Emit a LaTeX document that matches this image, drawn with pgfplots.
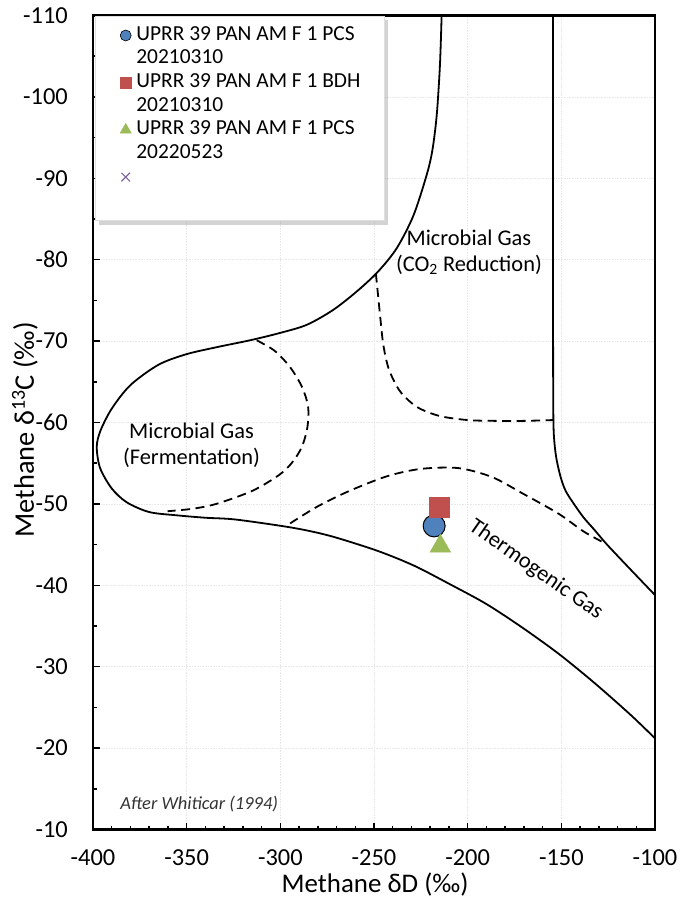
\documentclass[border=0pt]{standalone}
\usepackage{pgfplots}
\pgfplotsset{compat=1.18}
\usepackage{fontspec}
\setmainfont{Carlito}
\usetikzlibrary{shadows}
\definecolor{xlblue}{HTML}{4F81BD}
\definecolor{xlred}{HTML}{C0504D}
\definecolor{xlgreen}{HTML}{9BBB59}
\definecolor{xlpurple}{HTML}{8064A2}
\newcommand{\tickfont}{\fontsize{24.5}{28}\selectfont}
\begin{document}
\begin{tikzpicture}
\begin{axis}[
  at={(0,0)}, anchor=south west,
  scale only axis, width=562bp, height=814bp,
  xmin=-400, xmax=-100, ymin=-110, ymax=-10,
  y dir=reverse,
  xtick={-400,-350,...,-100}, ytick={-110,-100,...,-10},
  minor x tick num=4, minor y tick num=1,
  tick align=inside, xtick pos=left, ytick pos=left,
  major tick length=7bp, minor tick length=4bp,
  every tick/.style={black, line width=1.5bp},
  axis line style={line width=2.2bp},
  grid=major, major grid style={gray!18, line width=0.6bp, densely dotted},
  /pgf/number format/assume math mode=true,
  xticklabel={\tickfont\pgfmathprintnumber{\tick}},
  yticklabel={\tickfont\pgfmathprintnumber{\tick}},
  yticklabel style={inner sep=0pt, xshift=-25bp},
  xticklabel style={inner sep=0pt, yshift=-20bp},
  xlabel={Methane δD (‰)},
  ylabel={Methane δ\textsuperscript{13}C (‰)},
  xlabel style={font=\fontsize{27}{32}\selectfont, at={(axis description cs:0.502,-0.068)}, anchor=center},
  ylabel style={font=\fontsize{28.5}{32}\selectfont, at={(axis description cs:-0.121,0.491)}, anchor=center, rotate=0},
  legend style={at={(axis description cs:0.0036,1)}, anchor=north west,
    draw=gray!25, fill=white,
    drop shadow={shadow xshift=4bp, shadow yshift=-4bp, opacity=0.35},
    font=\fontsize{21.5}{25}\selectfont, row sep=0pt,
    inner xsep=22bp, inner ysep=8bp,
    nodes={inner ysep=2.5bp, text height=14bp, text depth=4.6bp},
    /tikz/every odd column/.append style={column sep=3bp}},
  legend cell align=left,
]
% outer envelope: microbial and thermogenic boundary
\addplot[forget plot, black, line width=1.8bp, smooth] coordinates {
  (-213.9,-110) (-214.8,-103.9) (-216.5,-97.8) (-218.8,-93.5) (-221.9,-90.4)
  (-229.0,-85.4) (-237.9,-81.4) (-248.0,-78.5) (-259.2,-76.1) (-272.0,-73.8)
  (-285.9,-72.0) (-300.2,-71.0) (-316.2,-70.1) (-333,-69.3) (-350,-68.4)
  (-365,-67.1) (-380,-64.6) (-390,-61.7) (-396,-59.0) (-398,-57.0)
  (-396.2,-54.4) (-390,-51.9) (-382,-50.2) (-370,-49.0) (-355.4,-48.6)
  (-340,-48.3) (-324.6,-48.1) (-299.6,-47.3) (-285,-46.7) (-270.8,-45.9)
  (-247.7,-44.2) (-228.5,-42.4) (-209.2,-40.1) (-190.0,-37.7) (-170.8,-34.8)
  (-151.5,-31.6) (-132.3,-28.0) (-113.1,-24.1) (-100,-21.2)};
% right boundary
\addplot[forget plot, black, line width=1.8bp, smooth] coordinates {
  (-154.4,-110) (-154.4,-90) (-154.4,-70) (-154.3,-62) (-154.0,-58.5)
  (-152.8,-55.8) (-150.5,-53.4) (-147.7,-51.6) (-143,-49.9) (-138,-48.3)
  (-132.3,-46.8) (-125.6,-45.0) (-113.3,-42.0) (-100,-38.8)};
% fermentation field
\addplot[forget plot, black, line width=1.8bp, dash pattern=on 9bp off 5.5bp, smooth] coordinates {
  (-312.6,-70.1) (-303,-68.8) (-294.8,-66.8) (-288.5,-64.4) (-285.2,-62.0)
  (-285.5,-59.5) (-288.5,-57.0) (-294,-55.0) (-301,-53.5) (-315,-51.6)
  (-334.2,-50.0) (-347,-49.4) (-360.2,-49.1)};
% CO2 reduction field
\addplot[forget plot, black, line width=1.8bp, dash pattern=on 9bp off 5.5bp, smooth] coordinates {
  (-249.0,-78.3) (-248.0,-76.0) (-246.6,-72.8) (-245.0,-69.5) (-242,-66.5)
  (-236,-63.8) (-227,-61.9) (-215,-60.8) (-200,-60.3) (-185,-60.2)
  (-170,-60.2) (-154.4,-60.3)};
% thermogenic field
\addplot[forget plot, black, line width=1.8bp, dash pattern=on 9bp off 5.5bp, smooth] coordinates {
  (-294.8,-47.6) (-280,-49.7) (-263.1,-51.6) (-243,-53.4) (-225,-54.3)
  (-205,-54.4) (-187,-53.3) (-170.8,-51.3) (-151.5,-48.8) (-138,-46.6)
  (-127,-45.2)};
% samples
\addplot[forget plot, only marks, mark=*, mark size=11bp, fill=xlblue, draw=black, line width=1bp] coordinates {(-217.9,-47.3)};
\addplot[forget plot, only marks, mark=square*, mark size=10bp, fill=xlred, draw=xlred] coordinates {(-215.4,-49.6)};
\addplot[forget plot, only marks, mark=triangle*, mark size=12bp, fill=xlgreen, draw=xlgreen] coordinates {(-214.6,-44.8)};
% legend
\addlegendimage{only marks, mark=*, mark size=5.5bp, fill=xlblue, draw=black, line width=0.6bp}
\addlegendentry{UPRR 39 PAN AM F 1 PCS}
\addlegendimage{empty legend}
\addlegendentry{20210310}
\addlegendimage{only marks, mark=square*, mark size=5.5bp, fill=xlred, draw=xlred}
\addlegendentry{UPRR 39 PAN AM F 1 BDH}
\addlegendimage{empty legend}
\addlegendentry{20210310}
\addlegendimage{only marks, mark=triangle*, mark size=6.5bp, fill=xlgreen, draw=xlgreen}
\addlegendentry{UPRR 39 PAN AM F 1 PCS}
\addlegendimage{empty legend}
\addlegendentry{20220523}
\addlegendimage{only marks, mark=x, mark size=6bp, draw=xlpurple, line width=1.2bp}
\addlegendentry{}
\addlegendimage{empty legend}
\addlegendentry{}
% field labels
\node[align=center, font=\fontsize{22.5}{26}\selectfont] at (axis cs:-199.3,-80.9)
  {Microbial Gas\\(CO\textsubscript{2} Reduction)};
\node[align=center, font=\fontsize{22.5}{27}\selectfont] at (axis cs:-347.4,-57.2)
  {Microbial Gas\\(Fermentation)};
\node[rotate=-35, font=\fontsize{22.5}{26}\selectfont] at (axis cs:-163.5,-41.9) {Thermogenic Gas};
\node[anchor=base west, font=\itshape\fontsize{18.5}{22}\selectfont, text=black!80] at (axis cs:-387.2,-12.5)
  {After Whiticar (1994)};
\end{axis}
\pgfresetboundingbox
\useasboundingbox (-93bp,-78.5bp) rectangle (603bp,829.5bp);
\end{tikzpicture}
\end{document}
